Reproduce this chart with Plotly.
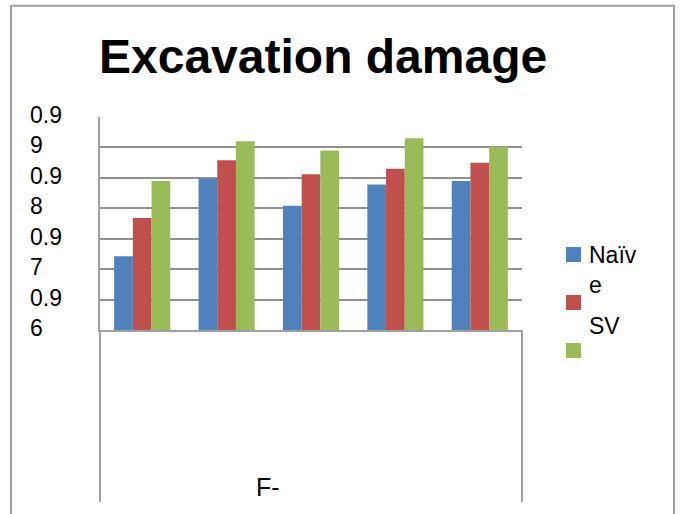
import plotly.graph_objects as go

# Bar chart data: five sub-groups of one category, three methods each
group_label = "F-"
positions = [0, 1, 2, 3, 4]
naive_vals = [0.9671, 0.9799, 0.9754, 0.9789, 0.9795]
mid_vals = [0.9734, 0.9829, 0.9806, 0.9815, 0.9825]
sv_vals = [0.9795, 0.9860, 0.9845, 0.9865, 0.9851]

series_names = ["Naïve", "", "SV"]
series_colors = ["#4F81BD", "#C0504D", "#9BBB59"]

# Axis values and wrapped tick labels
grid_vals = [0.955, 0.96, 0.965, 0.97, 0.975, 0.98, 0.985, 0.99]
ytick_vals = [0.96, 0.97, 0.98, 0.99]
ytick_text = ["0.9<br>6", "0.9<br>7", "0.9<br>8", "0.9<br>9"]
y_range = [0.955, 0.99]

# Legend text as it wraps in the narrow legend box
legend_text = ["Naïv<br>e", "SV"]

FONT = "Liberation Sans, Arial, sans-serif"
W, H = 682, 514
ML, MR, MT, MB = 100, 160, 117, 184
PW, PH = W - ML - MR, H - MT - MB


def px_x(x):
    return (x - ML) / PW


def px_y(y):
    return (H - MB - y) / PH


fig = go.Figure()
for name, vals, col in zip(series_names, [naive_vals, mid_vals, sv_vals], series_colors):
    fig.add_trace(go.Bar(x=positions, y=vals, name=name, marker=dict(color=col, line=dict(width=0)),
                         showlegend=False))

shapes = []
annotations = []

# outer chart frame
shapes.append(dict(type="rect", xref="paper", yref="paper",
                   x0=px_x(11), x1=px_x(674), y0=px_y(5.7), y1=px_y(530),
                   line=dict(color="#a0a0a0", width=2), fillcolor="rgba(0,0,0,0)", layer="below"))
# category separators below the axis
for xp in [0, 1]:
    shapes.append(dict(type="line", xref="paper", yref="paper", x0=xp, x1=xp,
                       y0=0, y1=px_y(502), line=dict(color="#a0a0a0", width=2)))

# y tick labels (left aligned, wrapped)
for v, t in zip(ytick_vals, ytick_text):
    annotations.append(dict(x=px_x(28), xref="paper", y=v, yref="y", text=t, showarrow=False,
                            xanchor="left", yanchor="middle", align="left", yshift=-13,
                            font=dict(family=FONT, size=23, color="black")))

# category label
annotations.append(dict(x=px_x(254), xref="paper", y=px_y(487), yref="paper", text=group_label,
                        showarrow=False, xanchor="left", yanchor="middle",
                        font=dict(family=FONT, size=25, color="black")))

# legend markers
marker_tops = [247, 295, 343]
for top, col in zip(marker_tops, series_colors):
    shapes.append(dict(type="rect", xref="paper", yref="paper",
                       x0=px_x(566), x1=px_x(581), y0=px_y(top + 15), y1=px_y(top),
                       line=dict(width=0), fillcolor=col))
# legend text
legend_y = [270, 326]
for t, yc in zip(legend_text, legend_y):
    annotations.append(dict(x=px_x(587), xref="paper", y=px_y(yc), yref="paper", text=t,
                            showarrow=False, xanchor="left", yanchor="middle", align="left",
                            font=dict(family=FONT, size=23, color="black")))

# title
annotations.append(dict(x=px_x(323), xref="paper", y=px_y(57), yref="paper",
                        text="<b>Excavation damage</b>", showarrow=False,
                        xanchor="center", yanchor="middle",
                        font=dict(family=FONT, size=48, color="black")))

fig.update_layout(
    width=W, height=H,
    margin=dict(l=ML, r=MR, t=MT, b=MB, pad=0),
    paper_bgcolor="white", plot_bgcolor="white",
    barmode="group", bargap=0.335, bargroupgap=0,
    showlegend=False,
    shapes=shapes, annotations=annotations,
    xaxis=dict(range=[-0.5, 4.5], showgrid=False, zeroline=False, showticklabels=False,
               ticks="", showline=True, linecolor="#a0a0a0", linewidth=2, fixedrange=True),
    yaxis=dict(range=y_range, tickmode="array", tickvals=grid_vals, showticklabels=False,
               ticks="", showgrid=True, gridcolor="#909090", gridwidth=2, zeroline=False,
               showline=True, linecolor="#a0a0a0", linewidth=2, fixedrange=True),
)

fig.write_html("out.html", config={"displayModeBar": False})
